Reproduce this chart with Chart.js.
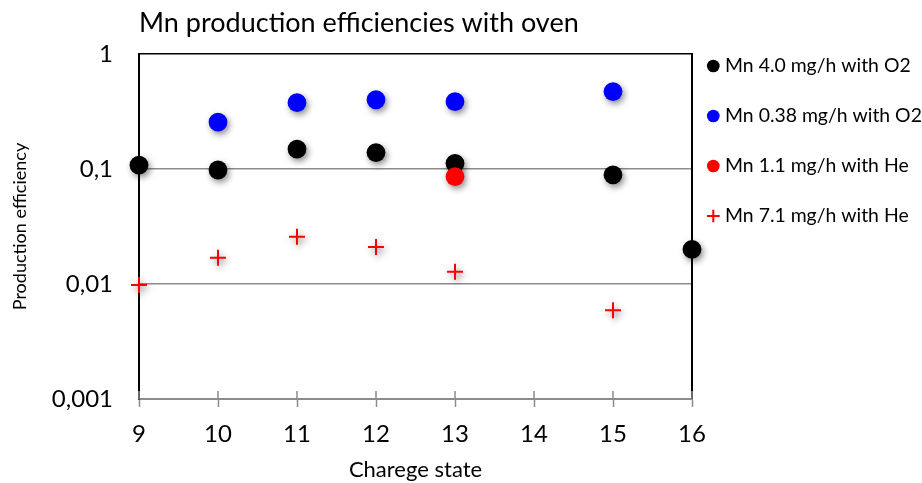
<!DOCTYPE html>
<html>
<head>
<meta charset="utf-8">
<title>Mn production efficiencies with oven</title>
<script src="https://cdn.jsdelivr.net/npm/chart.js@4/dist/chart.umd.min.js"></script>
<style>
  html, body { margin: 0; padding: 0; background: #ffffff; }
  #wrap { width: 922px; height: 483px; }
</style>
</head>
<body>
<div id="wrap"><canvas id="chart" width="922" height="483"></canvas></div>
<script>
// Production efficiency per charge state, one pair of arrays per source setting
const seriesNames = [
  'Mn 4.0 mg/h with O2',
  'Mn 0.38 mg/h with O2',
  'Mn 1.1 mg/h with He',
  'Mn 7.1 mg/h with He'
];

const statesO2High = [9, 10, 11, 12, 13, 15, 16];
const effO2High    = [0.108, 0.098, 0.149, 0.139, 0.112, 0.089, 0.020];

const statesO2Low  = [10, 11, 12, 13, 15];
const effO2Low     = [0.256, 0.377, 0.400, 0.385, 0.471];

const statesHeLow  = [13];
const effHeLow     = [0.086];

const statesHeHigh = [9, 10, 11, 12, 13, 15];
const effHeHigh    = [0.0098, 0.0169, 0.0258, 0.021, 0.0128, 0.0059];

// Decade ticks of the log axis and their decimal-comma labels
const yTickValues = [0.001, 0.01, 0.1, 1];
const yTickLabels = ['0,001', '0,01', '0,1', '1'];

const xMin = 9, xMax = 16;

const FONT = 'Lato, "Open Sans", sans-serif';

function points(xs, ys) {
  return xs.map((x, i) => ({ x: x, y: ys[i] }));
}

// Soft drop shadow under the markers
const markerShadow = {
  id: 'markerShadow',
  beforeDatasetsDraw(chart) {
    const ctx = chart.ctx;
    ctx.save();
    ctx.shadowColor = 'rgba(0,0,0,0.45)';
    ctx.shadowBlur = 6;
    ctx.shadowOffsetX = 2;
    ctx.shadowOffsetY = 3;
  },
  afterDatasetsDraw(chart) {
    chart.ctx.restore();
  }
};

// Right edge of the plot frame and tick stubs rising above the category axis
const plotFrame = {
  id: 'plotFrame',
  beforeDatasetsDraw(chart) {
    const { ctx, chartArea } = chart;
    const xs = chart.scales.x;
    ctx.save();
    ctx.strokeStyle = '#000000';
    ctx.lineWidth = 2;
    ctx.beginPath();
    ctx.moveTo(chartArea.right, chartArea.top - 1);
    ctx.lineTo(chartArea.right, chartArea.bottom);
    ctx.stroke();
    ctx.strokeStyle = '#8c8c8c';
    ctx.lineWidth = 1.5;
    ctx.beginPath();
    xs.ticks.forEach(t => {
      const px = xs.getPixelForValue(t.value);
      ctx.moveTo(px, chartArea.bottom - 8);
      ctx.lineTo(px, chartArea.bottom);
    });
    ctx.stroke();
    ctx.restore();
  }
};

const ctx = document.getElementById('chart').getContext('2d');

new Chart(ctx, {
  type: 'scatter',
  data: {
    datasets: [
      {
        label: seriesNames[0],
        data: points(statesO2High, effO2High),
        pointStyle: 'circle',
        pointRadius: 9.4,
        pointHoverRadius: 9.4,
        backgroundColor: '#000000',
        borderColor: '#000000',
        borderWidth: 0,
        clip: false,
        order: 3
      },
      {
        label: seriesNames[1],
        data: points(statesO2Low, effO2Low),
        pointStyle: 'circle',
        pointRadius: 9.4,
        pointHoverRadius: 9.4,
        backgroundColor: '#0000ff',
        borderColor: '#0000ff',
        borderWidth: 0,
        clip: false,
        order: 2
      },
      {
        label: seriesNames[2],
        data: points(statesHeLow, effHeLow),
        pointStyle: 'circle',
        pointRadius: 9.4,
        pointHoverRadius: 9.4,
        backgroundColor: '#ff0000',
        borderColor: '#ff0000',
        borderWidth: 0,
        clip: false,
        order: 1
      },
      {
        label: seriesNames[3],
        data: points(statesHeHigh, effHeHigh),
        pointStyle: 'cross',
        pointRadius: 8,
        pointHoverRadius: 8,
        backgroundColor: '#ff0000',
        borderColor: '#ff0000',
        borderWidth: 2,
        clip: false,
        order: 0
      }
    ]
  },
  options: {
    responsive: false,
    animation: false,
    devicePixelRatio: 1,
    layout: { padding: 0 },
    plugins: {
      tooltip: { enabled: false },
      title: {
        display: true,
        text: 'Mn production efficiencies with oven',
        align: 'start',
        fullSize: false,
        color: '#000000',
        font: { family: FONT, size: 27, weight: 'normal', lineHeight: 1.2 },
        padding: { top: 7, bottom: 14.6 }
      },
      legend: {
        display: true,
        position: 'right',
        align: 'start',
        fullSize: true,
        maxWidth: 230,
        title: {
          display: true,
          text: '',
          font: { size: 10, lineHeight: 1.2 },
          padding: { top: 25, bottom: 0 }
        },
        labels: {
          usePointStyle: true,
          boxWidth: 4,
          boxHeight: 9,
          padding: 19.3,
          color: '#000000',
          font: { family: FONT, size: 19.4, lineHeight: 30.7 / 19.4 },
          sort: (a, b) => a.datasetIndex - b.datasetIndex,
          generateLabels(chart) {
            const items = Chart.defaults.plugins.legend.labels.generateLabels(chart);
            items.forEach(it => { it.text = [it.text]; });
            return items;
          }
        }
      }
    },
    scales: {
      x: {
        type: 'linear',
        min: xMin,
        max: xMax,
        ticks: {
          stepSize: 1,
          color: '#000000',
          padding: 12.5,
          font: { family: FONT, size: 24 }
        },
        grid: {
          display: true,
          drawOnChartArea: false,
          drawTicks: true,
          tickLength: 8,
          tickColor: '#8c8c8c',
          tickWidth: 1.5
        },
        border: { display: true, color: '#8c8c8c', width: 2 },
        title: {
          display: true,
          text: 'Charege state',
          color: '#000000',
          font: { family: FONT, size: 22, lineHeight: 1.2 },
          padding: { top: 0, bottom: 0 }
        },
        afterFit(scale) { scale.height = 84; }
      },
      y: {
        type: 'logarithmic',
        min: yTickValues[0],
        max: yTickValues[yTickValues.length - 1],
        afterBuildTicks(scale) {
          scale.ticks = yTickValues.map(v => ({ value: v }));
        },
        ticks: {
          color: '#000000',
          padding: 26,
          font: { family: FONT, size: 24 },
          callback(value) {
            const i = yTickValues.indexOf(value);
            return i >= 0 ? yTickLabels[i] : '';
          }
        },
        grid: {
          display: true,
          drawTicks: false,
          lineWidth: 1.5,
          color(c) {
            if (c.tick && c.tick.value === yTickValues[yTickValues.length - 1]) return '#000000';
            if (c.tick && c.tick.value === yTickValues[0]) return 'rgba(0,0,0,0)';
            return '#8c8c8c';
          }
        },
        border: { display: true, color: '#000000', width: 2 },
        title: {
          display: true,
          text: 'Production efficiency',
          color: '#000000',
          font: { family: FONT, size: 18, lineHeight: 1.2 },
          padding: { top: 9, bottom: 0 }
        },
        afterFit(scale) { scale.width = 139; }
      }
    }
  },
  plugins: [plotFrame, markerShadow]
});
</script>
</body>
</html>
